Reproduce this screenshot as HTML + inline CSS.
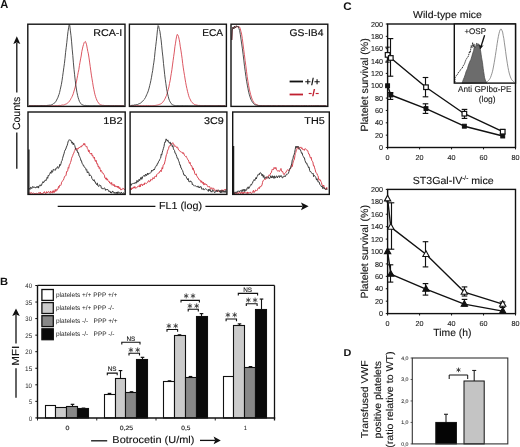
<!DOCTYPE html>
<html><head><meta charset="utf-8"><style>
html,body{margin:0;padding:0;background:#fff;width:520px;height:447px;overflow:hidden;}
body{position:relative;font-family:"Liberation Sans", sans-serif;}
svg text{font-family:"Liberation Sans", sans-serif;}
</style></head><body>
<svg width="520" height="447" viewBox="0 0 520 447" style="position:absolute;left:0;top:0;will-change:transform">
<g font-family="Liberation Sans, sans-serif" text-rendering="geometricPrecision">
<text x="0.36" y="8.10" font-size="11.5" font-weight="bold" fill="#111" textLength="8.04" lengthAdjust="spacingAndGlyphs" >A</text>
<path d="M29 105.64 L29.6 105.57 L30.2 105.7 L30.8 105.55 L31.4 105.7 L32 105.65 L32.6 105.54 L33.2 105.7 L33.8 105.53 L34.4 105.68 L35 105.55 L35.6 105.55 L36.2 105.67 L36.8 105.7 L37.4 105.56 L38 105.6 L38.6 105.7 L39.2 105.7 L39.8 105.7 L40.4 105.66 L41 105.7 L41.6 105.54 L42.2 105.7 L42.8 105.62 L43.4 105.57 L44 105.56 L44.6 105.63 L45.2 105.7 L45.8 105.58 L46.4 105.7 L47 105.7 L47.6 105.65 L48.2 105.7 L48.8 105.54 L49.4 105.54 L50 105.59 L50.6 105.7 L51.2 105.67 L51.8 105.63 L52.4 105.7 L53 105.67 L53.6 105.61 L54.2 105.7 L54.8 105.7 L55.4 105.57 L56 105.68 L56.6 105.65 L57.2 105.7 L57.8 105.69 L58.4 105.5 L59 105.7 L59.6 105.37 L60.2 105.44 L60.8 105.5 L61.4 105.21 L62 105.25 L62.6 104.98 L63.2 105.09 L63.8 104.98 L64.4 104.72 L65 104.62 L65.6 104.15 L66.2 103.99 L66.8 103.59 L67.4 103.16 L68 102.61 L68.6 102.2 L69.2 101.58 L69.8 100.59 L70.4 99.79 L71 98.47 L71.6 97.63 L72.2 96.29 L72.8 95.01 L73.4 93.27 L74 91.1 L74.6 89.12 L75.2 87.08 L75.8 84.16 L76.4 81.85 L77 78.76 L77.6 75.67 L78.2 72.4 L78.8 69.78 L79.4 65.65 L80 62.25 L80.6 58.89 L81.2 56.02 L81.8 51.6 L82.4 48.94 L83 46.25 L83.6 44.36 L84.2 42.51 L84.8 41.88 L85.4 41.48 L86 42.94 L86.6 44.82 L87.2 48.17 L87.8 51.39 L88.4 53.88 L89 57.86 L89.6 62.08 L90.2 66.35 L90.8 70.87 L91.4 75.12 L92 78.81 L92.6 82.35 L93.2 86.13 L93.8 89.23 L94.4 92.14 L95 94.81 L95.6 96.76 L96.2 98.47 L96.8 100.03 L97.4 101.3 L98 102.05 L98.6 103.22 L99.2 103.82 L99.8 104.36 L100.4 104.72 L101 104.86 L101.6 105.09 L102.2 105.15 L102.8 105.46 L103.4 105.34 L104 105.41 L104.6 105.5 L105.2 105.52 L105.8 105.6 L106.4 105.51 L107 105.5 L107.6 105.56 L108.2 105.55 L108.8 105.65 L109.4 105.53 L110 105.7 L110.6 105.7 L111.2 105.57 L111.8 105.61 L112.4 105.64 L113 105.65 L113.6 105.56 L114.2 105.7 L114.8 105.7 L115.4 105.69 L116 105.69 L116.6 105.55 L117.2 105.56 L117.8 105.64 L118.4 105.62 L119 105.7 L119.6 105.58 L120.2 105.53 L120.8 105.7 L121.4 105.7 L122 105.57 L122.6 105.7 L123.2 105.53 L123.8 105.7" fill="none" stroke="#d84450" stroke-width="0.9" stroke-linejoin="round" />
<path d="M29 105.7 L29.6 105.7 L30.2 105.7 L30.8 105.61 L31.4 105.65 L32 105.58 L32.6 105.7 L33.2 105.7 L33.8 105.7 L34.4 105.64 L35 105.6 L35.6 105.7 L36.2 105.7 L36.8 105.7 L37.4 105.7 L38 105.7 L38.6 105.7 L39.2 105.6 L39.8 105.7 L40.4 105.64 L41 105.52 L41.6 105.52 L42.2 105.6 L42.8 105.59 L43.4 105.7 L44 105.7 L44.6 105.62 L45.2 105.7 L45.8 105.7 L46.4 105.7 L47 105.49 L47.6 105.39 L48.2 105.34 L48.8 105.26 L49.4 105.17 L50 105.21 L50.6 105.17 L51.2 104.98 L51.8 104.63 L52.4 104.43 L53 104.17 L53.6 103.5 L54.2 103.25 L54.8 102.79 L55.4 102.05 L56 101.23 L56.6 100.14 L57.2 98.86 L57.8 97.8 L58.4 96.01 L59 94.44 L59.6 92.45 L60.2 89.72 L60.8 87 L61.4 84.3 L62 80.73 L62.6 76.5 L63.2 72.28 L63.8 67.75 L64.4 63.61 L65 58.4 L65.6 52.32 L66.2 47.67 L66.8 42.45 L67.4 36.8 L68 31.55 L68.6 27.82 L69.2 24.58 L69.8 25.65 L70.4 30.9 L71 35.73 L71.6 41.84 L72.2 49.14 L72.8 55.52 L73.4 62.82 L74 69.25 L74.6 74.72 L75.2 80.17 L75.8 84.96 L76.4 89.03 L77 92.68 L77.6 95.38 L78.2 97.8 L78.8 99.56 L79.4 101.38 L80 102.3 L80.6 103.24 L81.2 103.96 L81.8 104.58 L82.4 104.77 L83 105.22 L83.6 105.26 L84.2 105.41 L84.8 105.5 L85.4 105.39 L86 105.59 L86.6 105.53 L87.2 105.48 L87.8 105.7 L88.4 105.57 L89 105.68 L89.6 105.7 L90.2 105.7 L90.8 105.63 L91.4 105.7 L92 105.7 L92.6 105.7 L93.2 105.56 L93.8 105.7 L94.4 105.61 L95 105.62 L95.6 105.7 L96.2 105.7 L96.8 105.7 L97.4 105.7 L98 105.7 L98.6 105.68 L99.2 105.7 L99.8 105.7 L100.4 105.7 L101 105.7 L101.6 105.68 L102.2 105.7 L102.8 105.69 L103.4 105.7 L104 105.7 L104.6 105.7 L105.2 105.7 L105.8 105.61 L106.4 105.7 L107 105.7 L107.6 105.7 L108.2 105.57 L108.8 105.56 L109.4 105.68 L110 105.55 L110.6 105.61 L111.2 105.55 L111.8 105.7 L112.4 105.7 L113 105.7 L113.6 105.58 L114.2 105.7 L114.8 105.7 L115.4 105.57 L116 105.7 L116.6 105.7 L117.2 105.6 L117.8 105.7 L118.4 105.66 L119 105.7 L119.6 105.7 L120.2 105.7 L120.8 105.58 L121.4 105.68 L122 105.7 L122.6 105.64 L123.2 105.59 L123.8 105.63" fill="none" stroke="#3a3a3a" stroke-width="0.9" stroke-linejoin="round" />
<path d="M130.5 105.7 L131.1 105.53 L131.7 105.7 L132.3 105.68 L132.9 105.53 L133.5 105.64 L134.1 105.7 L134.7 105.7 L135.3 105.54 L135.9 105.7 L136.5 105.7 L137.1 105.7 L137.7 105.56 L138.3 105.62 L138.9 105.53 L139.5 105.7 L140.1 105.62 L140.7 105.57 L141.3 105.67 L141.9 105.7 L142.5 105.7 L143.1 105.61 L143.7 105.57 L144.3 105.7 L144.9 105.7 L145.5 105.7 L146.1 105.55 L146.7 105.53 L147.3 105.7 L147.9 105.66 L148.5 105.53 L149.1 105.7 L149.7 105.7 L150.3 105.7 L150.9 105.51 L151.5 105.7 L152.1 105.47 L152.7 105.7 L153.3 105.57 L153.9 105.5 L154.5 105.54 L155.1 105.62 L155.7 105.32 L156.3 105.2 L156.9 105.25 L157.5 105.03 L158.1 104.84 L158.7 104.69 L159.3 104.43 L159.9 104.24 L160.5 103.97 L161.1 103.6 L161.7 103.34 L162.3 102.62 L162.9 102.08 L163.5 101.21 L164.1 100.41 L164.7 99.24 L165.3 98.17 L165.9 96.68 L166.5 95.48 L167.1 93.59 L167.7 91.33 L168.3 89.2 L168.9 86.93 L169.5 83.48 L170.1 80.85 L170.7 77.08 L171.3 73.38 L171.9 69.68 L172.5 64.98 L173.1 60.65 L173.7 56.29 L174.3 52.08 L174.9 46.74 L175.5 43.16 L176.1 39.19 L176.7 36.08 L177.3 34.38 L177.9 35.16 L178.5 36.52 L179.1 39.18 L179.7 42.26 L180.3 46.8 L180.9 50.11 L181.5 54.19 L182.1 58.43 L182.7 63.6 L183.3 67.87 L183.9 71.79 L184.5 75.39 L185.1 79.08 L185.7 82.58 L186.3 85.86 L186.9 88.52 L187.5 91.27 L188.1 93.44 L188.7 95.81 L189.3 97.53 L189.9 98.8 L190.5 99.93 L191.1 101.32 L191.7 101.93 L192.3 102.69 L192.9 103.16 L193.5 103.81 L194.1 104.25 L194.7 104.58 L195.3 104.72 L195.9 105.04 L196.5 105.01 L197.1 105.23 L197.7 105.26 L198.3 105.45 L198.9 105.38 L199.5 105.41 L200.1 105.54 L200.7 105.54 L201.3 105.69 L201.9 105.68 L202.5 105.7 L203.1 105.7 L203.7 105.7 L204.3 105.7 L204.9 105.65 L205.5 105.63 L206.1 105.7 L206.7 105.57 L207.3 105.7 L207.9 105.7 L208.5 105.54 L209.1 105.7 L209.7 105.7 L210.3 105.7 L210.9 105.7 L211.5 105.7 L212.1 105.57 L212.7 105.7 L213.3 105.7 L213.9 105.7 L214.5 105.7 L215.1 105.7 L215.7 105.7 L216.3 105.7 L216.9 105.7 L217.5 105.7 L218.1 105.6 L218.7 105.53 L219.3 105.57 L219.9 105.65 L220.5 105.56 L221.1 105.7 L221.7 105.7 L222.3 105.7 L222.9 105.7 L223.5 105.7 L224.1 105.7 L224.7 105.52 L225.3 105.7" fill="none" stroke="#d84450" stroke-width="0.9" stroke-linejoin="round" />
<path d="M130.5 105.56 L131.1 105.43 L131.7 105.4 L132.3 105.39 L132.9 105.11 L133.5 105.29 L134.1 105.03 L134.7 104.87 L135.3 104.84 L135.9 104.89 L136.5 104.55 L137.1 104.59 L137.7 104.49 L138.3 104.1 L138.9 103.81 L139.5 103.57 L140.1 103.33 L140.7 102.99 L141.3 102.51 L141.9 102.05 L142.5 101.27 L143.1 100.67 L143.7 100.02 L144.3 99.44 L144.9 98.34 L145.5 97.44 L146.1 96.02 L146.7 94.74 L147.3 93.39 L147.9 91.98 L148.5 90.17 L149.1 88.12 L149.7 85.59 L150.3 83.21 L150.9 80.37 L151.5 77.28 L152.1 73.57 L152.7 70.51 L153.3 65.79 L153.9 62.15 L154.5 57.37 L155.1 51.23 L155.7 46.35 L156.3 41.23 L156.9 35.77 L157.5 29.53 L158.1 25.56 L158.7 26.26 L159.3 29.34 L159.9 31.25 L160.5 35.75 L161.1 39.89 L161.7 45.73 L162.3 51.94 L162.9 56.9 L163.5 63.52 L164.1 68.94 L164.7 74.69 L165.3 79.55 L165.9 83.76 L166.5 88.22 L167.1 91.47 L167.7 94.2 L168.3 96.7 L168.9 98.97 L169.5 100.6 L170.1 101.83 L170.7 102.78 L171.3 103.63 L171.9 104.2 L172.5 104.83 L173.1 104.82 L173.7 105.32 L174.3 105.51 L174.9 105.35 L175.5 105.7 L176.1 105.69 L176.7 105.7 L177.3 105.59 L177.9 105.63 L178.5 105.65 L179.1 105.7 L179.7 105.7 L180.3 105.65 L180.9 105.67 L181.5 105.62 L182.1 105.54 L182.7 105.56 L183.3 105.7 L183.9 105.62 L184.5 105.7 L185.1 105.61 L185.7 105.62 L186.3 105.7 L186.9 105.59 L187.5 105.65 L188.1 105.7 L188.7 105.7 L189.3 105.7 L189.9 105.7 L190.5 105.7 L191.1 105.7 L191.7 105.7 L192.3 105.7 L192.9 105.54 L193.5 105.7 L194.1 105.68 L194.7 105.7 L195.3 105.7 L195.9 105.62 L196.5 105.54 L197.1 105.7 L197.7 105.57 L198.3 105.69 L198.9 105.64 L199.5 105.63 L200.1 105.7 L200.7 105.7 L201.3 105.61 L201.9 105.7 L202.5 105.63 L203.1 105.7 L203.7 105.66 L204.3 105.58 L204.9 105.58 L205.5 105.59 L206.1 105.7 L206.7 105.7 L207.3 105.6 L207.9 105.7 L208.5 105.7 L209.1 105.68 L209.7 105.57 L210.3 105.59 L210.9 105.55 L211.5 105.64 L212.1 105.55 L212.7 105.61 L213.3 105.61 L213.9 105.7 L214.5 105.7 L215.1 105.7 L215.7 105.67 L216.3 105.67 L216.9 105.7 L217.5 105.66 L218.1 105.64 L218.7 105.54 L219.3 105.62 L219.9 105.7 L220.5 105.57 L221.1 105.7 L221.7 105.7 L222.3 105.7 L222.9 105.6 L223.5 105.62 L224.1 105.61 L224.7 105.66 L225.3 105.68" fill="none" stroke="#3a3a3a" stroke-width="0.9" stroke-linejoin="round" />
<path d="M231.8 40 L232.3 30 L233 27 L233.8 29 L234.5 26 L235.5 28 L236.5 25.8 L237.5 27 L239.5 26.88 L240.2 28.52 L240.9 31.27 L241.6 34.06 L242.3 38.45 L243 44 L243.7 49.49 L244.4 54.73 L245.1 60.47 L245.8 65.66 L246.5 71.27 L247.2 76.6 L247.9 81.17 L248.6 85.35 L249.3 89.09 L250 92.03 L250.7 94.74 L251.4 97.07 L252.1 99.1 L252.8 100.7 L253.5 102 L254.2 102.92 L254.9 103.65 L255.6 104.25 L256.3 104.61 L257 104.95 L257.7 105.06 L258.4 105.4 L259.1 105.39 L259.8 105.64 L260.5 105.63 L261.2 105.58 L261.9 105.57 L262.6 105.61 L263.3 105.71 L264 105.74 L264.7 105.6 L265.4 105.59 L266.1 105.7 L266.8 105.72 L267.5 105.67 L268.2 105.63 L268.9 105.72 L269.6 105.58 L270.3 105.65 L271 105.69 L271.7 105.81 L272.4 105.73 L273.1 105.79 L273.8 105.69 L274.5 105.64 L275.2 105.64 L275.9 105.81 L276.6 105.75 L277.3 105.65 L278 105.59 L278.7 105.7 L279.4 105.74 L280.1 105.68 L280.8 105.64 L281.5 105.74 L282.2 105.8 L282.9 105.63 L283.6 105.59 L284.3 105.66 L285 105.68 L285.7 105.74 L286.4 105.63 L287.1 105.77 L287.8 105.76 L288.5 105.7 L289.2 105.63 L289.9 105.81 L290.6 105.65 L291.3 105.78 L292 105.64 L292.7 105.63 L293.4 105.76 L294.1 105.65 L294.8 105.81 L295.5 105.7 L296.2 105.62 L296.9 105.63 L297.6 105.68 L298.3 105.74 L299 105.81 L299.7 105.62 L300.4 105.67 L301.1 105.63 L301.8 105.81 L302.5 105.61 L303.2 105.59 L303.9 105.59 L304.6 105.67 L305.3 105.8 L306 105.79 L306.7 105.76 L307.4 105.82 L308.1 105.8 L308.8 105.66 L309.5 105.62 L310.2 105.8 L310.9 105.76 L311.6 105.59 L312.3 105.74 L313 105.67 L313.7 105.67 L314.4 105.66 L315.1 105.62 L315.8 105.58 L316.5 105.65 L317.2 105.66 L317.9 105.81 L318.6 105.61 L319.3 105.81 L320 105.63 L320.7 105.67 L321.4 105.78 L322.1 105.78 L322.8 105.68 L323.5 105.59 L324.2 105.69 L324.9 105.67 L325.6 105.8 L326.3 105.63" fill="none" stroke="#d84450" stroke-width="0.9" stroke-linejoin="round" />
<path d="M231.8 40 L232.3 30 L233 27 L233.8 29 L234.5 26 L235.5 28 L236.5 25.8 L237.5 27 L238.2 26.27 L238.9 28.56 L239.6 30.44 L240.3 34.43 L241 39.16 L241.7 44.05 L242.4 48.8 L243.1 54.4 L243.8 60.1 L244.5 66.25 L245.2 71.19 L245.9 76.5 L246.6 81.2 L247.3 85.12 L248 88.81 L248.7 92.29 L249.4 94.91 L250.1 97.11 L250.8 99.16 L251.5 100.59 L252.2 101.82 L252.9 102.72 L253.6 103.68 L254.3 104.29 L255 104.65 L255.7 105.05 L256.4 105.05 L257.1 105.27 L257.8 105.45 L258.5 105.65 L259.2 105.7 L259.9 105.6 L260.6 105.59 L261.3 105.65 L262 105.68 L262.7 105.79 L263.4 105.62 L264.1 105.77 L264.8 105.75 L265.5 105.78 L266.2 105.76 L266.9 105.73 L267.6 105.66 L268.3 105.66 L269 105.67 L269.7 105.77 L270.4 105.6 L271.1 105.63 L271.8 105.76 L272.5 105.64 L273.2 105.6 L273.9 105.59 L274.6 105.71 L275.3 105.66 L276 105.82 L276.7 105.79 L277.4 105.82 L278.1 105.64 L278.8 105.6 L279.5 105.6 L280.2 105.7 L280.9 105.75 L281.6 105.69 L282.3 105.64 L283 105.68 L283.7 105.73 L284.4 105.74 L285.1 105.76 L285.8 105.78 L286.5 105.74 L287.2 105.61 L287.9 105.78 L288.6 105.65 L289.3 105.72 L290 105.67 L290.7 105.76 L291.4 105.63 L292.1 105.64 L292.8 105.64 L293.5 105.62 L294.2 105.79 L294.9 105.72 L295.6 105.66 L296.3 105.68 L297 105.82 L297.7 105.7 L298.4 105.64 L299.1 105.77 L299.8 105.74 L300.5 105.82 L301.2 105.6 L301.9 105.69 L302.6 105.78 L303.3 105.78 L304 105.8 L304.7 105.59 L305.4 105.65 L306.1 105.61 L306.8 105.63 L307.5 105.81 L308.2 105.72 L308.9 105.8 L309.6 105.67 L310.3 105.79 L311 105.69 L311.7 105.64 L312.4 105.77 L313.1 105.81 L313.8 105.61 L314.5 105.72 L315.2 105.73 L315.9 105.63 L316.6 105.67 L317.3 105.61 L318 105.63 L318.7 105.64 L319.4 105.72 L320.1 105.74 L320.8 105.63 L321.5 105.58 L322.2 105.66 L322.9 105.74 L323.6 105.62 L324.3 105.65 L325 105.63 L325.7 105.77 L326.4 105.71" fill="none" stroke="#3a3a3a" stroke-width="0.9" stroke-linejoin="round" />
<path d="M28.8 192.28 L29.09 192.39 L29.46 193.22 L29.88 193.66 L30.36 193.7 L30.87 192.4 L31.42 192.62 L32 193.7 L32.59 193.33 L33.19 192.99 L33.79 193.07 L34.38 193.7 L34.95 193.09 L35.49 193.7 L36 193.2 L36.56 193.35 L37.1 193.7 L37.63 193.7 L38.15 193.14 L38.66 192.65 L39.17 193.7 L39.69 192.6 L40.21 192.01 L40.73 193.7 L41.27 193.09 L41.83 193.7 L42.4 192.94 L42.88 193.7 L43.37 192.99 L43.87 192.11 L44.39 191.64 L44.91 193.09 L45.44 193.28 L45.97 193.7 L46.5 191.61 L47.03 193.04 L47.56 192.26 L48.07 192.56 L48.58 191.48 L49.07 191.78 L49.54 192.35 L50 193.39 L50.59 190.99 L51.16 191.95 L51.71 192.74 L52.24 193.11 L52.76 190.85 L53.27 190.53 L53.77 192.66 L54.27 192.56 L54.77 190.93 L55.28 189.42 L55.8 191.49 L56.33 189.53 L56.88 190.45 L57.43 189.07 L57.99 189 L58.54 186.46 L59.09 187.51 L59.63 185.2 L60.16 184.98 L60.66 185.48 L61.14 184.71 L61.6 182.21 L62.26 181.25 L62.86 180.71 L63.41 179.98 L63.94 178.53 L64.45 176.7 L64.96 175.9 L65.5 176.03 L66.05 175.26 L66.59 171.57 L67.13 171.7 L67.67 170.87 L68.21 167.45 L68.75 168.24 L69.3 164.73 L69.86 164.47 L70.44 162.57 L71.02 160.97 L71.6 158.26 L72.16 156.85 L72.7 155.75 L73.2 153.99 L73.8 153.2 L74.3 151.5 L74.79 150.61 L75.33 148.73 L76 149.73 L76.45 149.04 L76.95 148.06 L77.49 149.33 L78.05 149.2 L78.62 148.14 L79.19 147.2 L79.76 147.86 L80.3 146.64 L80.8 146.46 L81.41 146.87 L81.98 145.35 L82.54 145.71 L83.08 145.32 L83.62 143.54 L84.16 144.95 L84.7 143.43 L85.24 145.63 L85.76 146.4 L86.28 146.51 L86.81 146.21 L87.34 148.5 L87.91 149.15 L88.5 151.66 L88.99 150 L89.5 152.62 L90.02 153.58 L90.56 153.42 L91.1 154.24 L91.66 153.13 L92.21 156 L92.76 155.37 L93.3 157.48 L93.84 158.26 L94.37 157.14 L94.9 159.93 L95.43 161.41 L95.96 160.11 L96.5 162.04 L97.06 164.31 L97.62 163.76 L98.2 166.91 L98.69 166.05 L99.19 168.47 L99.69 167.5 L100.21 169.42 L100.73 171.5 L101.26 170.42 L101.79 171.46 L102.32 173.01 L102.85 173.32 L103.38 173.34 L103.9 174.51 L104.42 175.18 L104.92 178.04 L105.42 177.99 L105.92 179.24 L106.42 177.82 L106.93 180.14 L107.45 178.85 L107.98 180.57 L108.53 181.42 L109.1 181.18 L109.7 183.14 L110.16 182.63 L110.65 183.07 L111.15 184.28 L111.67 182.46 L112.2 185.29 L112.73 184.61 L113.28 184.28 L113.82 185.73 L114.37 184.55 L114.9 186.88 L115.43 186.02 L115.95 185.7 L116.45 187.11 L116.94 186.48 L117.4 185.99 L118.02 187.93 L118.63 186.31 L119.24 188.8 L119.83 187.52 L120.41 188.89 L120.97 190.13 L121.49 189.26 L121.99 189.71 L122.44 188.94 L122.85 188.25 L123.2 188.49 L124.26 189.1 L124.6 190" fill="none" stroke="#d84450" stroke-width="1.0" stroke-linejoin="round" />
<path d="M28.8 188.82 L29.12 188.28 L29.52 188.46 L30.01 189.48 L30.56 187.29 L31.15 187.49 L31.76 188.61 L32.38 186.76 L33 186.61 L33.46 187.52 L33.95 186.76 L34.46 187.39 L34.99 186.95 L35.52 187.88 L36.06 187.8 L36.59 186.63 L37.11 187.69 L37.6 187.15 L38.07 186.05 L38.5 188.12 L39.1 185.88 L39.63 185.28 L40.1 184.75 L40.56 185.86 L41.01 186.06 L41.48 185.32 L42 183.73 L42.48 182.85 L42.96 181.63 L43.45 182.87 L43.96 182.07 L44.48 180.88 L45.02 181.06 L45.59 179.79 L46.2 180.42 L46.67 179.24 L47.18 177.2 L47.72 178.3 L48.27 175.12 L48.83 175.69 L49.4 174.55 L49.96 173.3 L50.5 172.07 L51.03 173.4 L51.53 170.65 L52 171.64 L52.59 172.18 L53.13 169.52 L53.65 169.37 L54.13 170.27 L54.6 169.78 L55.06 169.95 L55.53 170.19 L56 168.09 L56.56 168.07 L57.12 167.65 L57.68 166.55 L58.23 168.48 L58.75 167.72 L59.25 167 L59.7 164.42 L60.39 165.45 L60.99 163.62 L61.51 161.27 L62 160.68 L62.51 158.67 L62.93 157.06 L63.5 155.09 L63.99 153.84 L64.56 151.31 L65.17 149.99 L65.8 149.04 L66.4 147.05 L67 145.81 L67.62 143.82 L68.23 141.11 L68.8 140.74 L69.3 139.62 L69.94 140.37 L70.44 140.26 L71 140.34 L71.48 141.87 L71.97 143.31 L72.53 141.92 L73.2 144.76 L73.67 143.09 L74.19 144.65 L74.76 145.56 L75.34 148.01 L75.93 149.62 L76.49 150.1 L77 149.92 L77.55 152.57 L78.07 152.12 L78.56 152.96 L79.04 155.93 L79.52 156.26 L80 157.54 L80.53 158.76 L81 160.91 L81.48 160.78 L82.06 163.2 L82.8 164.35 L83.2 165.57 L83.63 165.21 L84.09 166.87 L84.58 167.31 L85.08 167.48 L85.61 168.13 L86.16 170.2 L86.72 169.6 L87.3 172.85 L87.9 171.62 L88.5 172.18 L88.96 173.05 L89.43 176.02 L89.91 175.05 L90.41 175.17 L90.92 175.53 L91.44 176.25 L91.96 178.75 L92.49 179.26 L93.02 180.1 L93.56 180.86 L94.09 179.61 L94.63 181.68 L95.16 181.63 L95.68 183.46 L96.2 183.99 L96.71 184.69 L97.23 182.86 L97.74 185.56 L98.25 186.13 L98.77 186.63 L99.28 184.68 L99.79 185.34 L100.31 185.45 L100.82 185.58 L101.33 188.2 L101.85 188.43 L102.36 188.26 L102.87 189.11 L103.39 188.87 L103.9 188.2 L104.41 187.97 L104.93 188.24 L105.44 190.35 L105.95 189.06 L106.47 189.62 L106.98 190.14 L107.49 189.23 L108.01 190.1 L108.52 190.38 L109.03 191.78 L109.55 190.99 L110.06 191.03 L110.57 192.99 L111.09 191.86 L111.6 192.98 L112.12 192.47 L112.65 190.95 L113.18 192.14 L113.72 192.31 L114.26 193.35 L114.8 192.24 L115.34 193.32 L115.87 192.92 L116.4 192.09 L116.92 193.7 L117.43 191.85 L117.92 193.7 L118.4 192.18 L118.86 191.75 L119.3 192.37 L119.94 193.7 L120.58 193.7 L121.21 191.98 L121.81 193.37 L122.38 193.4 L122.91 193.7 L123.4 192.58 L123.83 193.46 L124.2 193.06 L124.5 193.5" fill="none" stroke="#3a3a3a" stroke-width="1.0" stroke-linejoin="round" />
<line x1="28.9" y1="149.5" x2="28.9" y2="194" stroke="#222" stroke-width="1.3" />
<path d="M130.8 189.73 L131.08 188.04 L131.42 189.85 L131.8 187.89 L132.23 187.58 L132.69 188.8 L133.19 188.09 L133.71 186.85 L134.26 188.17 L134.83 186.44 L135.41 188.24 L136 187.8 L136.6 187.86 L137.2 187.21 L137.79 186.25 L138.38 186.16 L138.95 185.93 L139.5 187.09 L139.99 184.64 L140.49 186.67 L141 184.04 L141.51 184.32 L142.03 184.24 L142.56 185.79 L143.09 184.42 L143.62 183.83 L144.15 184.99 L144.68 182.91 L145.21 183.28 L145.74 183.22 L146.26 183.57 L146.77 183.29 L147.28 182.72 L147.78 181.61 L148.26 181.27 L148.74 180.51 L149.2 182.16 L149.77 181.3 L150.33 181.17 L150.88 179.21 L151.42 179.6 L151.96 180.18 L152.48 179.26 L152.99 177.62 L153.49 178.18 L153.99 178.98 L154.48 176.78 L154.96 176.25 L155.43 176.14 L155.89 176.85 L156.35 176.81 L156.8 174.43 L157.4 173.84 L157.98 173.51 L158.54 173.16 L159.08 173.13 L159.61 171.51 L160.13 171.35 L160.64 170.28 L161.14 171.74 L161.63 170.23 L162.12 167.58 L162.6 168.99 L163.18 165.17 L163.75 164.34 L164.31 164.24 L164.85 161.84 L165.38 159.75 L165.9 157.03 L166.41 154.56 L166.91 154.14 L167.4 151.2 L168 149.79 L168.55 148.7 L169.09 146.24 L169.61 145.95 L170.15 145.94 L170.7 144.81 L171.3 143.7 L171.79 143.86 L172.29 143.4 L172.8 142.67 L173.32 144.29 L173.86 144.16 L174.4 145.6 L174.96 146.6 L175.52 145.8 L176.1 146.71 L176.59 147.62 L177.11 147.18 L177.64 147.16 L178.18 149.09 L178.73 150.1 L179.28 150.39 L179.82 150.76 L180.35 151.76 L180.86 151.82 L181.35 152.23 L181.8 152.17 L182.43 152.38 L182.99 153.75 L183.5 152.68 L183.99 154 L184.5 155.52 L185.06 155.96 L185.7 156.56 L186.16 156.17 L186.67 157.41 L187.2 158.33 L187.75 159.69 L188.32 160.03 L188.89 161.73 L189.46 163.41 L190.01 162.28 L190.54 164.53 L191.04 165.76 L191.5 165.49 L192.13 166.97 L192.67 169.47 L193.16 167.94 L193.64 170.42 L194.13 170.41 L194.67 173.21 L195.3 174.73 L195.75 174.26 L196.21 173.81 L196.69 175.86 L197.18 176.5 L197.69 177.72 L198.22 177.87 L198.77 178.94 L199.33 180.17 L199.9 179.98 L200.49 180.32 L201.1 182.45 L201.55 180.83 L202.02 182.59 L202.49 182.2 L202.97 183.65 L203.46 182.26 L203.95 185.07 L204.46 183.69 L204.97 183.23 L205.49 184.21 L206.02 184.93 L206.56 184.2 L207.11 185.68 L207.66 186.02 L208.23 187.13 L208.8 186.49 L209.26 186.5 L209.74 186.64 L210.23 188.34 L210.73 189.16 L211.24 188.26 L211.76 187.64 L212.28 189.52 L212.81 188.62 L213.34 188.35 L213.87 188.34 L214.4 190.37 L214.93 190.67 L215.45 190.37 L215.97 190.08 L216.48 190.51 L216.98 189.71 L217.46 191.9 L217.94 190.3 L218.4 191.19 L218.98 191.77 L219.57 191.79 L220.17 190.81 L220.77 190.28 L221.36 190.93 L221.95 189.66 L222.52 191.53 L223.07 190.08 L223.6 191.35 L224.1 189.59 L224.57 189.78 L225 189.32 L225.38 189.71 L225.72 188.97 L226 189.8" fill="none" stroke="#d84450" stroke-width="1.0" stroke-linejoin="round" />
<path d="M130.8 183.61 L131.1 185.46 L131.46 184.03 L131.89 183.71 L132.36 183.62 L132.88 183.85 L133.43 183.41 L134.01 183.69 L134.61 183.43 L135.22 182.26 L135.83 183.49 L136.44 182.93 L137.03 180.33 L137.6 182.12 L138.09 182 L138.6 181.31 L139.11 179.13 L139.64 180.67 L140.17 179.72 L140.71 177.57 L141.24 177.15 L141.78 179.36 L142.31 178.12 L142.84 176.57 L143.36 175.75 L143.87 175.47 L144.36 175.35 L144.84 176.51 L145.3 174.97 L145.9 174.01 L146.47 175.73 L147.02 175.06 L147.55 172.99 L148.07 174.7 L148.58 173.59 L149.08 173.76 L149.58 173.11 L150.08 173.4 L150.58 172.72 L151.1 172.45 L151.62 170.22 L152.15 171.19 L152.68 170.32 L153.21 170.49 L153.74 169.19 L154.27 169.96 L154.79 168.54 L155.31 167.17 L155.81 166.48 L156.31 165.54 L156.8 165.78 L157.39 163.54 L157.96 163.56 L158.53 161.44 L159.09 161.12 L159.64 159.8 L160.18 158.53 L160.7 158.03 L161.21 154.22 L161.7 155.15 L162.31 152.17 L162.89 150.26 L163.45 148.3 L163.99 146.59 L164.51 143.29 L165.01 141.75 L165.5 142.09 L166.14 138.86 L166.72 140.46 L167.28 140.96 L167.83 139.9 L168.4 142.01 L168.97 142.44 L169.52 143.31 L170.08 141.9 L170.66 144.21 L171.3 143.73 L171.79 144.53 L172.32 146.76 L172.86 145.57 L173.42 148.81 L173.98 149.93 L174.54 150.51 L175.1 153.31 L175.64 153.23 L176.18 154.84 L176.72 156.31 L177.26 158.35 L177.82 158.17 L178.39 160.23 L179 161.68 L179.48 163.26 L179.95 165.3 L180.43 165.11 L180.91 167.95 L181.42 168.1 L181.95 169.72 L182.52 170.38 L183.13 172.31 L183.8 174.83 L184.23 174.64 L184.67 175.73 L185.12 175.15 L185.6 175.82 L186.08 176.46 L186.58 177.96 L187.09 178.77 L187.61 179.85 L188.14 178.41 L188.69 180.95 L189.23 182.02 L189.79 181.65 L190.36 180.81 L190.93 182.04 L191.5 181.72 L191.96 182.6 L192.43 185 L192.91 184.45 L193.4 184.9 L193.89 185.56 L194.39 186.18 L194.9 185.62 L195.41 185.88 L195.92 186.16 L196.44 186.58 L196.96 186.53 L197.48 186.98 L198 185.88 L198.53 187.36 L199.05 186.98 L199.56 188.03 L200.08 186.38 L200.59 186.81 L201.1 186.6 L201.61 188.87 L202.12 189.46 L202.64 188.92 L203.16 188.31 L203.68 189.76 L204.21 189.83 L204.74 189.38 L205.26 188.69 L205.78 188.97 L206.3 189.46 L206.82 189.32 L207.33 189.78 L207.84 190.51 L208.34 191.46 L208.83 189.12 L209.31 190.67 L209.79 189.31 L210.25 189.63 L210.7 191.67 L211.29 191.13 L211.86 192.19 L212.4 190.95 L212.93 189.81 L213.45 190.92 L213.95 191.54 L214.45 192.54 L214.94 192.7 L215.44 191.31 L215.93 191.16 L216.43 190.31 L216.94 191.85 L217.46 190.66 L218 190.52 L218.5 190.17 L219.02 190.16 L219.57 192.09 L220.14 190.53 L220.72 192.91 L221.3 190.47 L221.88 192.67 L222.46 190.6 L223.02 190.3 L223.56 192.28 L224.07 190.95 L224.55 192.33 L224.99 190.81 L225.38 190.43 L225.72 192.46 L226 191.7" fill="none" stroke="#3a3a3a" stroke-width="1.0" stroke-linejoin="round" />
<path d="M233.85 193.7 L234.14 193.7 L234.49 193.7 L234.89 192.08 L235.35 193.6 L235.84 193.7 L236.37 193.11 L236.93 193.7 L237.5 192.5 L238.09 193.7 L238.69 193.7 L239.29 191.78 L239.88 191.77 L240.45 193.54 L241.01 193.7 L241.54 191.9 L242.06 192.53 L242.58 193.69 L243.11 192.1 L243.64 193.7 L244.17 192.98 L244.71 191.78 L245.24 192.63 L245.77 193.19 L246.29 192.79 L246.81 193.44 L247.32 191.92 L247.82 193.7 L248.3 192.44 L248.77 193.17 L249.23 193.06 L249.83 192.36 L250.4 192.16 L250.94 193.16 L251.47 193.47 L251.98 192.88 L252.49 192.11 L252.98 191.16 L253.48 190.31 L253.98 192.64 L254.48 191.63 L255 191.69 L255.53 189.98 L256.07 190.39 L256.63 191.05 L257.18 190.24 L257.73 189.17 L258.28 187.9 L258.81 187.77 L259.33 188.58 L259.84 186.65 L260.32 187 L260.77 186.25 L261.42 186.18 L262.01 184.93 L262.55 182.4 L263.07 180.55 L263.57 180.27 L264.08 179.79 L264.62 179.47 L265.17 179.52 L265.74 179.27 L266.31 176.54 L266.88 178.45 L267.43 178.07 L267.96 177.85 L268.46 176.55 L269.08 174.86 L269.64 175.5 L270.17 174.34 L270.72 172.99 L271.35 172.7 L271.85 170.44 L272.4 168.98 L272.98 169.57 L273.56 169.58 L274.14 167.36 L274.68 168.53 L275.19 168.9 L275.83 167.32 L276.42 169.25 L276.97 170.54 L277.52 170.92 L278.08 170.72 L278.65 170.74 L279.23 171.61 L279.81 171.06 L280.38 169.61 L280.96 168.46 L281.52 170.98 L282.07 171.82 L282.62 171.38 L283.21 173.25 L283.85 174.57 L284.35 174.47 L284.9 173.16 L285.48 172.58 L286.06 172.35 L286.64 170.66 L287.18 170.14 L287.69 169.68 L288.33 170.77 L288.92 169.59 L289.47 169.9 L290.02 169.06 L290.58 168.7 L291.15 166.71 L291.73 165.26 L292.31 166.58 L292.88 163.3 L293.46 160.82 L294.04 160.16 L294.62 158.04 L295.19 153.64 L295.77 152.49 L296.35 149.95 L296.91 149.25 L297.45 147.08 L298.01 146.66 L298.59 149.07 L299.23 148.53 L299.74 147.39 L300.29 147.65 L300.86 146.92 L301.45 148.56 L302.02 147.8 L302.57 149.49 L303.08 149.21 L303.72 149.66 L304.3 150.41 L304.85 148.81 L305.4 148.63 L305.96 149.55 L306.54 149.94 L307.12 150.12 L307.69 150.54 L308.27 152.59 L308.85 154.31 L309.42 154.24 L310 156.89 L310.58 158.2 L311.15 157.31 L311.73 160.27 L312.31 161.19 L312.88 161.94 L313.46 165.86 L314.04 165.46 L314.62 167.87 L315.19 169.66 L315.77 172.14 L316.35 172.92 L316.92 173.67 L317.5 175.24 L318.06 175.71 L318.61 179.13 L319.16 180.32 L319.75 179.25 L320.38 179.86 L320.89 181.33 L321.44 182.5 L322.02 184.96 L322.6 185.85 L323.17 186.5 L323.72 185.03 L324.23 187.72 L324.92 188.17 L325.59 188.47 L326.22 189.76 L326.74 187.4 L327.12 188.85" fill="none" stroke="#d84450" stroke-width="1.0" stroke-linejoin="round" />
<path d="M233.85 191.7 L234.15 193.36 L234.54 193.7 L235 193.02 L235.52 191.89 L236.08 192.63 L236.67 193.01 L237.27 191.09 L237.89 191.6 L238.49 191.3 L239.07 190.81 L239.62 191.68 L240.15 190.67 L240.69 190.72 L241.24 190.3 L241.79 191.64 L242.35 189.61 L242.89 191.41 L243.43 189.76 L243.95 189.13 L244.45 191.43 L244.93 189.24 L245.38 191.02 L246.03 190.49 L246.62 190.2 L247.17 187.73 L247.68 188.2 L248.19 186.79 L248.7 188.65 L249.23 187.88 L249.78 186.7 L250.33 185.56 L250.88 184.55 L251.43 185.18 L251.98 183.48 L252.53 183.18 L253.08 181.12 L253.63 180.64 L254.2 179.47 L254.78 180.6 L255.34 179.45 L255.89 177.62 L256.42 178.98 L256.92 176.65 L257.56 176.14 L258.15 174.46 L258.7 173.9 L259.25 174.8 L259.81 173 L260.38 172.53 L260.96 173.74 L261.54 173.76 L262.12 175.98 L262.69 174.3 L263.27 177.3 L263.85 175.41 L264.42 178.45 L265 178.39 L265.58 177.46 L266.14 178.25 L266.68 177.54 L267.24 177.16 L267.82 176.69 L268.46 176.93 L268.96 178.59 L269.49 178.53 L270.04 178.25 L270.61 175.88 L271.18 176.37 L271.75 178.04 L272.31 175.68 L272.86 177.58 L273.41 176.44 L273.96 178.44 L274.51 175.84 L275.05 178.13 L275.6 176.87 L276.15 176.3 L276.7 175.83 L277.25 178.01 L277.8 176.96 L278.35 175.81 L278.9 176.34 L279.45 177.55 L280 175.56 L280.55 176.62 L281.1 175.61 L281.65 175.98 L282.2 177.89 L282.75 177.92 L283.3 176.56 L283.85 176.13 L284.4 175.87 L284.97 176.92 L285.54 176.08 L286.11 174.86 L286.66 174.02 L287.19 174.47 L287.69 174.04 L288.33 173.4 L288.92 171.8 L289.47 169.67 L290.02 168.03 L290.58 168.34 L291.15 165.47 L291.73 164.02 L292.31 159.66 L292.88 159.3 L293.46 155.69 L294.04 154.88 L294.62 152.64 L295.19 149.44 L295.77 146.34 L296.35 147.69 L296.92 146.06 L297.5 147.33 L298.08 146.21 L298.65 146.77 L299.23 149.39 L299.81 149 L300.38 149.55 L300.96 151.38 L301.54 153.28 L302.12 152.84 L302.69 155.44 L303.27 156.39 L303.85 157.74 L304.42 157.78 L305 160.6 L305.58 162.04 L306.15 163.33 L306.73 162.96 L307.31 165.21 L307.88 165.44 L308.46 167.66 L309.04 166.94 L309.62 170.41 L310.19 171.78 L310.77 171.52 L311.35 172.47 L311.92 173.3 L312.5 174.04 L313.08 173.3 L313.65 176.69 L314.22 175.35 L314.76 175.94 L315.32 176.44 L315.9 177.64 L316.54 180.12 L317.04 178.66 L317.57 179.67 L318.12 182.23 L318.69 181.71 L319.26 182.09 L319.83 184.54 L320.38 185.21 L320.94 185.74 L321.51 186.89 L322.08 185.82 L322.65 188.54 L323.2 188.62 L323.73 187.19 L324.23 187.79 L324.92 189.22 L325.59 189.49 L326.22 189.01 L326.74 188.66 L327.12 189.81" fill="none" stroke="#3a3a3a" stroke-width="1.0" stroke-linejoin="round" />
<line x1="233.6" y1="146" x2="233.6" y2="194" stroke="#222" stroke-width="1.3" />
<rect x="27.8" y="24.2" width="97.2" height="82.2" fill="none" stroke="#141414" stroke-width="1.4"/>
<rect x="129.4" y="24.2" width="97" height="82.2" fill="none" stroke="#141414" stroke-width="1.4"/>
<rect x="231" y="24.2" width="96.8" height="82.2" fill="none" stroke="#141414" stroke-width="1.4"/>
<rect x="28" y="112" width="97.2" height="82.4" fill="none" stroke="#141414" stroke-width="1.4"/>
<rect x="130.1" y="112" width="96.8" height="82.4" fill="none" stroke="#141414" stroke-width="1.4"/>
<rect x="232.7" y="112" width="96.6" height="82.4" fill="none" stroke="#141414" stroke-width="1.4"/>
<text x="93.18" y="35.80" font-size="9.8" font-weight="normal" fill="#111" textLength="29.13" lengthAdjust="spacingAndGlyphs" stroke="#111" stroke-width="0.18">RCA-I</text>
<text x="202.22" y="36.30" font-size="9.8" font-weight="normal" fill="#111" textLength="20.88" lengthAdjust="spacingAndGlyphs" stroke="#111" stroke-width="0.18">ECA</text>
<text x="289.57" y="35.70" font-size="9.8" font-weight="normal" fill="#111" textLength="33.86" lengthAdjust="spacingAndGlyphs" stroke="#111" stroke-width="0.18">GS-IB4</text>
<text x="103.16" y="124.40" font-size="9.8" font-weight="normal" fill="#111" textLength="19.53" lengthAdjust="spacingAndGlyphs" stroke="#111" stroke-width="0.18">1B2</text>
<text x="203.95" y="124.40" font-size="9.8" font-weight="normal" fill="#111" textLength="19.78" lengthAdjust="spacingAndGlyphs" stroke="#111" stroke-width="0.18">3C9</text>
<text x="304.32" y="123.90" font-size="9.8" font-weight="normal" fill="#111" textLength="20.47" lengthAdjust="spacingAndGlyphs" stroke="#111" stroke-width="0.18">TH5</text>
<line x1="289.6" y1="81.5" x2="303" y2="81.5" stroke="#111" stroke-width="1.8" />
<text x="304.87" y="84.60" font-size="10" font-weight="bold" fill="#111" textLength="15.22" lengthAdjust="spacingAndGlyphs" >+/+</text>
<line x1="289.6" y1="94.5" x2="303" y2="94.5" stroke="#c02030" stroke-width="1.8" />
<text x="308.20" y="96.30" font-size="9.6" font-weight="bold" fill="#c02030" textLength="10.98" lengthAdjust="spacingAndGlyphs" >-/-</text>
<line x1="16.8" y1="43" x2="16.8" y2="92.5" stroke="#111" stroke-width="1.3" />
<path d="M16.8 36.2 L13.3 44 L16.8 42.6 L20.3 44 Z" fill="#111"/>
<text x="20.20" y="130.00" font-size="10.5" font-weight="normal" fill="#111" stroke="#111" stroke-width="0.12" textLength="33.18" lengthAdjust="spacingAndGlyphs" transform="rotate(-90 20.20 130.00)" >Counts</text>
<line x1="16.8" y1="132.4" x2="16.8" y2="168.7" stroke="#111" stroke-width="1.3" />
<line x1="57.7" y1="206.3" x2="155.4" y2="206.3" stroke="#111" stroke-width="1.3" />
<text x="158.91" y="209.20" font-size="10.2" font-weight="normal" fill="#111" stroke="#111" stroke-width="0.12" textLength="43.14" lengthAdjust="spacingAndGlyphs" >FL1 (log)</text>
<line x1="205.4" y1="206.3" x2="302.5" y2="206.3" stroke="#111" stroke-width="1.3" />
<path d="M308.6 206.3 L301 202.6 L302.6 206.3 L301 210.2 Z" fill="#111"/>
<text x="0.00" y="284.60" font-size="10.5" font-weight="bold" fill="#111" textLength="8.06" lengthAdjust="spacingAndGlyphs" >B</text>
<rect x="41.9" y="289.5" width="11.4" height="10.9" fill="#ffffff" stroke="#111" stroke-width="1.3"/>
<text x="56" y="296.7" font-size="6.5" text-anchor="start" font-weight="normal" fill="#222" >platelets +/+ PPP +/+</text>
<rect x="41.9" y="302.6" width="11.4" height="10.9" fill="#cbcbcb" stroke="#111" stroke-width="1.3"/>
<text x="56" y="309.8" font-size="6.5" text-anchor="start" font-weight="normal" fill="#222" >platelets +/+ PPP -/-</text>
<rect x="41.9" y="315.7" width="11.4" height="10.9" fill="#888888" stroke="#111" stroke-width="1.3"/>
<text x="56" y="323" font-size="6.5" text-anchor="start" font-weight="normal" fill="#222" >platelets -/-&#160;&#160;&#160;PPP +/+</text>
<rect x="41.9" y="328.8" width="11.4" height="10.9" fill="#0a0a0a" stroke="#111" stroke-width="1.3"/>
<text x="56" y="336.1" font-size="6.5" text-anchor="start" font-weight="normal" fill="#222" >platelets -/-&#160;&#160;&#160;PPP -/-</text>
<rect x="45.5" y="405.5" width="10" height="12.4" fill="#ffffff" stroke="#111" stroke-width="1.1"/>
<rect x="55.5" y="407.5" width="11" height="10.4" fill="#cbcbcb" stroke="#111" stroke-width="1.1"/>
<line x1="72.5" y1="406.31" x2="72.5" y2="404.33" stroke="#111" stroke-width="1.1" />
<line x1="70.7" y1="404.33" x2="74.3" y2="404.33" stroke="#111" stroke-width="1.2" />
<rect x="66.5" y="406.5" width="11" height="11.4" fill="#888888" stroke="#111" stroke-width="1.1"/>
<line x1="83.5" y1="408.63" x2="83.5" y2="408.14" stroke="#111" stroke-width="1.1" />
<line x1="81.7" y1="408.14" x2="85.3" y2="408.14" stroke="#111" stroke-width="1.2" />
<rect x="77.5" y="408.5" width="11" height="9.4" fill="#0a0a0a" stroke="#111" stroke-width="1.1"/>
<line x1="109.5" y1="394.4" x2="109.5" y2="393.41" stroke="#111" stroke-width="1.1" />
<line x1="107.7" y1="393.41" x2="111.3" y2="393.41" stroke="#111" stroke-width="1.2" />
<rect x="104.5" y="394.5" width="11" height="23.4" fill="#ffffff" stroke="#111" stroke-width="1.1"/>
<line x1="120.5" y1="378.18" x2="120.5" y2="370.57" stroke="#111" stroke-width="1.1" />
<line x1="118.7" y1="370.57" x2="122.3" y2="370.57" stroke="#111" stroke-width="1.2" />
<rect x="115.5" y="378.5" width="10" height="39.4" fill="#cbcbcb" stroke="#111" stroke-width="1.1"/>
<line x1="131.5" y1="392.41" x2="131.5" y2="391.75" stroke="#111" stroke-width="1.1" />
<line x1="129.7" y1="391.75" x2="133.3" y2="391.75" stroke="#111" stroke-width="1.2" />
<rect x="125.5" y="392.5" width="11" height="25.4" fill="#888888" stroke="#111" stroke-width="1.1"/>
<line x1="142.5" y1="359.64" x2="142.5" y2="357.33" stroke="#111" stroke-width="1.1" />
<line x1="140.7" y1="357.33" x2="144.3" y2="357.33" stroke="#111" stroke-width="1.2" />
<rect x="136.5" y="359.5" width="11" height="58.4" fill="#0a0a0a" stroke="#111" stroke-width="1.1"/>
<line x1="169.5" y1="381.82" x2="169.5" y2="380.83" stroke="#111" stroke-width="1.1" />
<line x1="167.7" y1="380.83" x2="171.3" y2="380.83" stroke="#111" stroke-width="1.2" />
<rect x="163.5" y="381.5" width="11" height="36.4" fill="#ffffff" stroke="#111" stroke-width="1.1"/>
<line x1="179.5" y1="335.81" x2="179.5" y2="334.82" stroke="#111" stroke-width="1.1" />
<line x1="177.7" y1="334.82" x2="181.3" y2="334.82" stroke="#111" stroke-width="1.2" />
<rect x="174.5" y="335.5" width="11" height="82.4" fill="#cbcbcb" stroke="#111" stroke-width="1.1"/>
<line x1="190.5" y1="377.52" x2="190.5" y2="376.52" stroke="#111" stroke-width="1.1" />
<line x1="188.7" y1="376.52" x2="192.3" y2="376.52" stroke="#111" stroke-width="1.2" />
<rect x="185.5" y="377.5" width="11" height="40.4" fill="#888888" stroke="#111" stroke-width="1.1"/>
<line x1="201.5" y1="316.94" x2="201.5" y2="313.63" stroke="#111" stroke-width="1.1" />
<line x1="199.7" y1="313.63" x2="203.3" y2="313.63" stroke="#111" stroke-width="1.2" />
<rect x="196.5" y="316.5" width="11" height="101.4" fill="#0a0a0a" stroke="#111" stroke-width="1.1"/>
<rect x="223.5" y="376.5" width="10" height="41.4" fill="#ffffff" stroke="#111" stroke-width="1.1"/>
<line x1="239.5" y1="325.55" x2="239.5" y2="323.9" stroke="#111" stroke-width="1.1" />
<line x1="237.7" y1="323.9" x2="241.3" y2="323.9" stroke="#111" stroke-width="1.2" />
<rect x="233.5" y="325.5" width="11" height="92.4" fill="#cbcbcb" stroke="#111" stroke-width="1.1"/>
<line x1="250.5" y1="367.59" x2="250.5" y2="366.59" stroke="#111" stroke-width="1.1" />
<line x1="248.7" y1="366.59" x2="252.3" y2="366.59" stroke="#111" stroke-width="1.2" />
<rect x="244.5" y="367.5" width="11" height="50.4" fill="#888888" stroke="#111" stroke-width="1.1"/>
<line x1="261.5" y1="309.33" x2="261.5" y2="299.07" stroke="#111" stroke-width="1.1" />
<line x1="259.7" y1="299.07" x2="263.3" y2="299.07" stroke="#111" stroke-width="1.2" />
<rect x="255.5" y="309.5" width="11" height="108.4" fill="#0a0a0a" stroke="#111" stroke-width="1.1"/>
<line x1="37.5" y1="285.4" x2="274.5" y2="285.4" stroke="#111" stroke-width="1.3" />
<line x1="274.5" y1="285.4" x2="274.5" y2="420.5" stroke="#111" stroke-width="1.3" />
<line x1="37.5" y1="285.4" x2="37.5" y2="418.6" stroke="#111" stroke-width="1.4" />
<line x1="36.8" y1="418" x2="275.2" y2="418" stroke="#111" stroke-width="1.4" />
<line x1="35.3" y1="417.9" x2="37.5" y2="417.9" stroke="#111" stroke-width="1.0" />
<text x="28.99" y="420.60" font-size="6.6" font-weight="normal" fill="#222" textLength="3.05" lengthAdjust="spacingAndGlyphs" >0</text>
<line x1="35.3" y1="401.35" x2="37.5" y2="401.35" stroke="#111" stroke-width="1.0" />
<text x="28.99" y="404.05" font-size="6.6" font-weight="normal" fill="#222" textLength="3.05" lengthAdjust="spacingAndGlyphs" >5</text>
<line x1="35.3" y1="384.8" x2="37.5" y2="384.8" stroke="#111" stroke-width="1.0" />
<text x="25.13" y="387.50" font-size="6.6" font-weight="normal" fill="#222" textLength="6.85" lengthAdjust="spacingAndGlyphs" >10</text>
<line x1="35.3" y1="368.25" x2="37.5" y2="368.25" stroke="#111" stroke-width="1.0" />
<text x="25.12" y="370.95" font-size="6.6" font-weight="normal" fill="#222" textLength="7.12" lengthAdjust="spacingAndGlyphs" >15</text>
<line x1="35.3" y1="351.7" x2="37.5" y2="351.7" stroke="#111" stroke-width="1.0" />
<text x="25.37" y="354.40" font-size="6.6" font-weight="normal" fill="#222" textLength="6.61" lengthAdjust="spacingAndGlyphs" >20</text>
<line x1="35.3" y1="335.15" x2="37.5" y2="335.15" stroke="#111" stroke-width="1.0" />
<text x="25.37" y="337.85" font-size="6.6" font-weight="normal" fill="#222" textLength="6.85" lengthAdjust="spacingAndGlyphs" >25</text>
<line x1="35.3" y1="318.6" x2="37.5" y2="318.6" stroke="#111" stroke-width="1.0" />
<text x="25.37" y="321.30" font-size="6.6" font-weight="normal" fill="#222" textLength="6.61" lengthAdjust="spacingAndGlyphs" >30</text>
<line x1="35.3" y1="302.05" x2="37.5" y2="302.05" stroke="#111" stroke-width="1.0" />
<text x="25.37" y="304.75" font-size="6.6" font-weight="normal" fill="#222" textLength="6.85" lengthAdjust="spacingAndGlyphs" >35</text>
<line x1="35.3" y1="285.5" x2="37.5" y2="285.5" stroke="#111" stroke-width="1.0" />
<text x="25.37" y="288.20" font-size="6.6" font-weight="normal" fill="#222" textLength="6.61" lengthAdjust="spacingAndGlyphs" >40</text>
<line x1="37.5" y1="418" x2="37.5" y2="420.5" stroke="#111" stroke-width="0.9" />
<line x1="96.75" y1="418" x2="96.75" y2="420.5" stroke="#111" stroke-width="0.9" />
<line x1="156" y1="418" x2="156" y2="420.5" stroke="#111" stroke-width="0.9" />
<line x1="215.25" y1="418" x2="215.25" y2="420.5" stroke="#111" stroke-width="0.9" />
<text x="65.42" y="429.60" font-size="6.2" font-weight="normal" fill="#222" textLength="3.91" lengthAdjust="spacingAndGlyphs" stroke="#222" stroke-width="0.15">0</text>
<text x="119.87" y="429.60" font-size="6.2" font-weight="normal" fill="#222" textLength="13.30" lengthAdjust="spacingAndGlyphs" stroke="#222" stroke-width="0.15">0,25</text>
<text x="181.29" y="429.60" font-size="6.2" font-weight="normal" fill="#222" textLength="9.08" lengthAdjust="spacingAndGlyphs" stroke="#222" stroke-width="0.15">0,5</text>
<text x="243.90" y="429.60" font-size="6.2" font-weight="normal" fill="#222" textLength="2.76" lengthAdjust="spacingAndGlyphs" stroke="#222" stroke-width="0.15">1</text>
<path d="M107.3 375.3 L107.3 373.1 L117.2 373.1 L117.2 375.3" fill="none" stroke="#111" stroke-width="1.1"/>
<text x="112.2" y="371.4" font-size="6.4" text-anchor="middle" font-weight="normal" fill="#111" stroke="#111" stroke-width="0.1">NS</text>
<path d="M129 355.4 L129 353.2 L139.5 353.2 L139.5 355.4" fill="none" stroke="#111" stroke-width="1.1"/>
<line x1="130.9" y1="347.4" x2="130.9" y2="352.4" stroke="#333" stroke-width="0.85" />
<line x1="133.07" y1="348.65" x2="128.73" y2="351.15" stroke="#333" stroke-width="0.85" />
<line x1="133.07" y1="351.15" x2="128.73" y2="348.65" stroke="#333" stroke-width="0.85" />
<line x1="137.7" y1="347.4" x2="137.7" y2="352.4" stroke="#333" stroke-width="0.85" />
<line x1="139.87" y1="348.65" x2="135.53" y2="351.15" stroke="#333" stroke-width="0.85" />
<line x1="139.87" y1="351.15" x2="135.53" y2="348.65" stroke="#333" stroke-width="0.85" />
<path d="M121.8 344.5 L121.8 342.3 L140 342.3 L140 344.5" fill="none" stroke="#111" stroke-width="1.1"/>
<text x="130.9" y="340.9" font-size="6.4" text-anchor="middle" font-weight="normal" fill="#111" stroke="#111" stroke-width="0.1">NS</text>
<path d="M167 331.7 L167 329.5 L177.6 329.5 L177.6 331.7" fill="none" stroke="#111" stroke-width="1.1"/>
<line x1="168.9" y1="323.4" x2="168.9" y2="328.4" stroke="#333" stroke-width="0.85" />
<line x1="171.07" y1="324.65" x2="166.73" y2="327.15" stroke="#333" stroke-width="0.85" />
<line x1="171.07" y1="327.15" x2="166.73" y2="324.65" stroke="#333" stroke-width="0.85" />
<line x1="175.7" y1="323.4" x2="175.7" y2="328.4" stroke="#333" stroke-width="0.85" />
<line x1="177.87" y1="324.65" x2="173.53" y2="327.15" stroke="#333" stroke-width="0.85" />
<line x1="177.87" y1="327.15" x2="173.53" y2="324.65" stroke="#333" stroke-width="0.85" />
<path d="M188.2 311.5 L188.2 309.3 L198.3 309.3 L198.3 311.5" fill="none" stroke="#111" stroke-width="1.1"/>
<line x1="189.9" y1="303.4" x2="189.9" y2="308.4" stroke="#333" stroke-width="0.85" />
<line x1="192.07" y1="304.65" x2="187.73" y2="307.15" stroke="#333" stroke-width="0.85" />
<line x1="192.07" y1="307.15" x2="187.73" y2="304.65" stroke="#333" stroke-width="0.85" />
<line x1="196.7" y1="303.4" x2="196.7" y2="308.4" stroke="#333" stroke-width="0.85" />
<line x1="198.87" y1="304.65" x2="194.53" y2="307.15" stroke="#333" stroke-width="0.85" />
<line x1="198.87" y1="307.15" x2="194.53" y2="304.65" stroke="#333" stroke-width="0.85" />
<path d="M181 302.6 L181 300.4 L199.4 300.4 L199.4 302.6" fill="none" stroke="#111" stroke-width="1.1"/>
<line x1="186.2" y1="293.4" x2="186.2" y2="298.4" stroke="#333" stroke-width="0.85" />
<line x1="188.37" y1="294.65" x2="184.03" y2="297.15" stroke="#333" stroke-width="0.85" />
<line x1="188.37" y1="297.15" x2="184.03" y2="294.65" stroke="#333" stroke-width="0.85" />
<line x1="193" y1="293.4" x2="193" y2="298.4" stroke="#333" stroke-width="0.85" />
<line x1="195.17" y1="294.65" x2="190.83" y2="297.15" stroke="#333" stroke-width="0.85" />
<line x1="195.17" y1="297.15" x2="190.83" y2="294.65" stroke="#333" stroke-width="0.85" />
<path d="M226.1 321.2 L226.1 319 L236.5 319 L236.5 321.2" fill="none" stroke="#111" stroke-width="1.1"/>
<line x1="227.9" y1="312.4" x2="227.9" y2="317.4" stroke="#333" stroke-width="0.85" />
<line x1="230.07" y1="313.65" x2="225.73" y2="316.15" stroke="#333" stroke-width="0.85" />
<line x1="230.07" y1="316.15" x2="225.73" y2="313.65" stroke="#333" stroke-width="0.85" />
<line x1="234.7" y1="312.4" x2="234.7" y2="317.4" stroke="#333" stroke-width="0.85" />
<line x1="236.87" y1="313.65" x2="232.53" y2="316.15" stroke="#333" stroke-width="0.85" />
<line x1="236.87" y1="316.15" x2="232.53" y2="313.65" stroke="#333" stroke-width="0.85" />
<path d="M246.3 306 L246.3 303.8 L257.1 303.8 L257.1 306" fill="none" stroke="#111" stroke-width="1.1"/>
<line x1="248.3" y1="297.6" x2="248.3" y2="302.6" stroke="#333" stroke-width="0.85" />
<line x1="250.47" y1="298.85" x2="246.13" y2="301.35" stroke="#333" stroke-width="0.85" />
<line x1="250.47" y1="301.35" x2="246.13" y2="298.85" stroke="#333" stroke-width="0.85" />
<line x1="255.1" y1="297.6" x2="255.1" y2="302.6" stroke="#333" stroke-width="0.85" />
<line x1="257.27" y1="298.85" x2="252.93" y2="301.35" stroke="#333" stroke-width="0.85" />
<line x1="257.27" y1="301.35" x2="252.93" y2="298.85" stroke="#333" stroke-width="0.85" />
<path d="M238.3 295.6 L238.3 293.4 L257.6 293.4 L257.6 295.6" fill="none" stroke="#111" stroke-width="1.1"/>
<text x="247.7" y="292.3" font-size="6.4" text-anchor="middle" font-weight="normal" fill="#111" stroke="#111" stroke-width="0.1">NS</text>
<line x1="16" y1="314.5" x2="16" y2="343.4" stroke="#111" stroke-width="1.3" />
<path d="M16.0 308.6 L12.2 316 L16.0 314.4 L19.8 316 Z" fill="#111"/>
<text x="18.60" y="365.75" font-size="10.2" font-weight="normal" fill="#111" stroke="#111" stroke-width="0.12" textLength="19.96" lengthAdjust="spacingAndGlyphs" transform="rotate(-90 18.60 365.75)" >MFI</text>
<line x1="16" y1="368.2" x2="16" y2="397.8" stroke="#111" stroke-width="1.3" />
<line x1="91.1" y1="440.8" x2="107.2" y2="440.8" stroke="#111" stroke-width="1.3" />
<text x="112.38" y="442.70" font-size="10.0" font-weight="normal" fill="#111" stroke="#111" stroke-width="0.12" textLength="81.98" lengthAdjust="spacingAndGlyphs" >Botrocetin (U/ml)</text>
<line x1="200" y1="440.4" x2="215" y2="440.4" stroke="#111" stroke-width="1.3" />
<path d="M220.8 440.4 L213.6 436.6 L215.2 440.4 L213.6 444.2 Z" fill="#111"/>
<text x="343.27" y="9.90" font-size="11" font-weight="bold" fill="#111" textLength="8.41" lengthAdjust="spacingAndGlyphs" >C</text>
<rect x="387.6" y="24" width="127.9" height="123.5" fill="none" stroke="#111" stroke-width="1.4"/>
<line x1="385.8" y1="147.5" x2="387.6" y2="147.5" stroke="#111" stroke-width="1.0" />
<text x="382.9" y="150.1" font-size="7.2" text-anchor="end" font-weight="normal" fill="#222" stroke="#222" stroke-width="0.12">0</text>
<line x1="385.8" y1="135.15" x2="387.6" y2="135.15" stroke="#111" stroke-width="1.0" />
<text x="382.9" y="137.75" font-size="7.2" text-anchor="end" font-weight="normal" fill="#222" stroke="#222" stroke-width="0.12">20</text>
<line x1="385.8" y1="122.8" x2="387.6" y2="122.8" stroke="#111" stroke-width="1.0" />
<text x="382.9" y="125.4" font-size="7.2" text-anchor="end" font-weight="normal" fill="#222" stroke="#222" stroke-width="0.12">40</text>
<line x1="385.8" y1="110.45" x2="387.6" y2="110.45" stroke="#111" stroke-width="1.0" />
<text x="382.9" y="113.05" font-size="7.2" text-anchor="end" font-weight="normal" fill="#222" stroke="#222" stroke-width="0.12">60</text>
<line x1="385.8" y1="98.1" x2="387.6" y2="98.1" stroke="#111" stroke-width="1.0" />
<text x="382.9" y="100.7" font-size="7.2" text-anchor="end" font-weight="normal" fill="#222" stroke="#222" stroke-width="0.12">80</text>
<line x1="385.8" y1="85.75" x2="387.6" y2="85.75" stroke="#111" stroke-width="1.0" />
<text x="382.9" y="88.35" font-size="7.2" text-anchor="end" font-weight="normal" fill="#222" stroke="#222" stroke-width="0.12">100</text>
<line x1="385.8" y1="73.4" x2="387.6" y2="73.4" stroke="#111" stroke-width="1.0" />
<text x="382.9" y="76" font-size="7.2" text-anchor="end" font-weight="normal" fill="#222" stroke="#222" stroke-width="0.12">120</text>
<line x1="385.8" y1="61.05" x2="387.6" y2="61.05" stroke="#111" stroke-width="1.0" />
<text x="382.9" y="63.65" font-size="7.2" text-anchor="end" font-weight="normal" fill="#222" stroke="#222" stroke-width="0.12">140</text>
<line x1="385.8" y1="48.7" x2="387.6" y2="48.7" stroke="#111" stroke-width="1.0" />
<text x="382.9" y="51.3" font-size="7.2" text-anchor="end" font-weight="normal" fill="#222" stroke="#222" stroke-width="0.12">160</text>
<line x1="385.8" y1="36.35" x2="387.6" y2="36.35" stroke="#111" stroke-width="1.0" />
<text x="382.9" y="38.95" font-size="7.2" text-anchor="end" font-weight="normal" fill="#222" stroke="#222" stroke-width="0.12">180</text>
<line x1="385.8" y1="24" x2="387.6" y2="24" stroke="#111" stroke-width="1.0" />
<text x="382.9" y="26.6" font-size="7.2" text-anchor="end" font-weight="normal" fill="#222" stroke="#222" stroke-width="0.12">200</text>
<line x1="387.6" y1="147.5" x2="387.6" y2="149.4" stroke="#111" stroke-width="1.0" />
<line x1="419.58" y1="147.5" x2="419.58" y2="149.4" stroke="#111" stroke-width="1.0" />
<line x1="451.56" y1="147.5" x2="451.56" y2="149.4" stroke="#111" stroke-width="1.0" />
<line x1="483.54" y1="147.5" x2="483.54" y2="149.4" stroke="#111" stroke-width="1.0" />
<line x1="515.52" y1="147.5" x2="515.52" y2="149.4" stroke="#111" stroke-width="1.0" />
<text x="413.10" y="17.70" font-size="10" font-weight="normal" fill="#111" stroke="#111" stroke-width="0.12" textLength="68.74" lengthAdjust="spacingAndGlyphs" >Wild-type mice</text>
<text x="367.60" y="131.56" font-size="10.4" font-weight="normal" fill="#111" stroke="#111" stroke-width="0.12" textLength="93.33" lengthAdjust="spacingAndGlyphs" transform="rotate(-90 367.60 131.56)" >Platelet survival (%)</text>
<rect x="454.3" y="24.0" width="61.19999999999999" height="59.099999999999994" fill="#fff" stroke="none"/>
<path d="M455 82.39 L454.99 79.72 L455.2 77.61 L455.65 76.98 L456.27 75.44 L457 75.09 L457.62 74.33 L458.32 72.52 L459.03 72.18 L459.7 71.33 L460.5 69.67 L461.26 68.87 L462 68.41 L462.76 66.79 L463.5 65.25 L464.2 64.53 L464.8 63.03 L465.36 61.21 L466 59.69 L466.63 58.62 L467.36 57.48 L468.05 56.87 L468.6 55.47 L469.16 53.11 L469.5 51.38 L469.9 52.66 L470.3 52.46 L470.75 48.96 L471.2 45.55 L471.62 46.86 L472 47.7 L472.31 45.06 L472.6 42.66 L472.94 44.43 L473.3 47.04 L473.63 45.01 L474 43.92 L474.42 45.38 L475 47.42 L475.59 49.6 L476.3 52.97 L477 55.33 L477.67 58.41 L478.33 61.16 L479 64.37 L479.67 67.24 L480.33 69.91 L481 71.44 L481.67 74.71 L482.33 76.68 L483 79.21 L483.74 80.28 L484.48 81.77 L485 82.5" fill="#fff" stroke="#222" stroke-width="0.95" stroke-linejoin="round" stroke-dasharray="1.4 0.7"/>
<path d="M462 83.14 L462.59 81.53 L463.41 79.28 L464.2 77.52 L464.84 75.55 L465.44 74.05 L466 71.83 L466.74 70.16 L467.5 68.62 L468.15 66.1 L468.86 64.05 L469.5 62.36 L470.23 60.75 L470.9 59.41 L471.71 56.84 L472.5 54.03 L473.15 51.96 L473.7 50.3 L474.12 47.67 L474.5 45.83 L474.89 46.86 L475.3 47.83 L475.75 46.28 L476.2 44.17 L476.61 43.27 L477 43.07 L477.41 44.51 L477.8 46.06 L478.06 45.11 L478.4 43.76 L479.07 45.4 L479.8 47.27 L480.34 49.56 L480.8 52.09 L481.15 54.56 L481.5 57.15 L482 59.93 L482.5 62.78 L482.86 65.77 L483.2 68.41 L483.61 71.44 L484 73.61 L484.28 75.73 L484.6 77.79 L485.16 79.43 L485.8 81.55 L486.47 82.39 L487 82.8 Z" fill="#6c6c6c" stroke="#444" stroke-width="0.7"/>
<path d="M484 82.26 L484.6 82.33 L485.2 82.13 L485.8 82.09 L486.4 81.81 L487 81.56 L487.6 81.38 L488.2 80.86 L488.8 80.19 L489.4 79.49 L490 78.51 L490.6 77.34 L491.2 75.64 L491.8 73.8 L492.4 71.79 L493 69.14 L493.6 65.97 L494.2 62.72 L494.8 59.1 L495.4 55.4 L496 51.36 L496.6 47.45 L497.2 43.49 L497.8 39.57 L498.4 36.37 L499 33.53 L499.6 31.32 L500.2 29.62 L500.8 29.17 L501.4 29.28 L502 30.58 L502.6 32.05 L503.2 35.45 L503.8 38.37 L504.4 42.87 L505 47.06 L505.6 51.42 L506.2 56.01 L506.8 59.99 L507.4 63.79 L508 67.41 L508.6 70.48 L509.2 73.01 L509.8 75.13 L510.4 76.93 L511 78.35 L511.6 79.51 L512.2 80.26 L512.8 80.91 L513.4 81.4 L514 81.7" fill="none" stroke="#777" stroke-width="0.8" stroke-linejoin="round" />
<rect x="454.3" y="24" width="61.2" height="59.1" fill="none" stroke="#111" stroke-width="1.4"/>
<text x="464.41" y="34.00" font-size="8.2" font-weight="normal" fill="#111" textLength="21.71" lengthAdjust="spacingAndGlyphs" stroke="#111" stroke-width="0.12">+OSP</text>
<line x1="484.6" y1="35.3" x2="481.2" y2="46" stroke="#111" stroke-width="1.3" />
<path d="M480.1 49.6 L478.9 44.3 L481.3 45.9 L483.6 45.2 Z" fill="#111"/>
<text x="458.00" y="92.10" font-size="8.5" font-weight="normal" fill="#222" stroke="#222" stroke-width="0.12" textLength="53.51" lengthAdjust="spacingAndGlyphs" >Anti GPIb&#945;-PE</text>
<text x="478.71" y="102.00" font-size="8.6" font-weight="normal" fill="#222" stroke="#222" stroke-width="0.12" textLength="16.94" lengthAdjust="spacingAndGlyphs" >(log)</text>
<path d="M387.6 85.75 L390.8 95.01 L425.98 108.6 L464.35 126.2 L502.73 136.01" fill="none" stroke="#111" stroke-width="1.4" stroke-linejoin="round" />
<path d="M387.6 54.87 L390.8 57.96 L425.98 87.23 L464.35 113.72 L502.73 131.69" fill="none" stroke="#111" stroke-width="1.4" stroke-linejoin="round" />
<line x1="387.5" y1="47.2" x2="387.5" y2="62.1" stroke="#111" stroke-width="1.15" />
<line x1="385.3" y1="47.2" x2="389.7" y2="47.2" stroke="#111" stroke-width="1.15" />
<line x1="385.3" y1="62.1" x2="389.7" y2="62.1" stroke="#111" stroke-width="1.15" />
<line x1="390.5" y1="38.6" x2="390.5" y2="76.2" stroke="#111" stroke-width="1.15" />
<line x1="387.7" y1="38.6" x2="393.3" y2="38.6" stroke="#111" stroke-width="1.15" />
<line x1="387.7" y1="76.2" x2="393.3" y2="76.2" stroke="#111" stroke-width="1.15" />
<line x1="425.5" y1="77.5" x2="425.5" y2="96.8" stroke="#111" stroke-width="1.15" />
<line x1="422.7" y1="77.5" x2="428.3" y2="77.5" stroke="#111" stroke-width="1.15" />
<line x1="422.7" y1="96.8" x2="428.3" y2="96.8" stroke="#111" stroke-width="1.15" />
<line x1="464.5" y1="109.4" x2="464.5" y2="118.4" stroke="#111" stroke-width="1.15" />
<line x1="461.7" y1="109.4" x2="467.3" y2="109.4" stroke="#111" stroke-width="1.15" />
<line x1="461.7" y1="118.4" x2="467.3" y2="118.4" stroke="#111" stroke-width="1.15" />
<line x1="502.5" y1="129.5" x2="502.5" y2="134" stroke="#111" stroke-width="1.15" />
<line x1="499.7" y1="129.5" x2="505.3" y2="129.5" stroke="#111" stroke-width="1.15" />
<line x1="499.7" y1="134" x2="505.3" y2="134" stroke="#111" stroke-width="1.15" />
<line x1="390.5" y1="92.6" x2="390.5" y2="99.4" stroke="#111" stroke-width="1.15" />
<line x1="387.7" y1="92.6" x2="393.3" y2="92.6" stroke="#111" stroke-width="1.15" />
<line x1="387.7" y1="99.4" x2="393.3" y2="99.4" stroke="#111" stroke-width="1.15" />
<line x1="425.5" y1="103.8" x2="425.5" y2="113.4" stroke="#111" stroke-width="1.15" />
<line x1="422.7" y1="103.8" x2="428.3" y2="103.8" stroke="#111" stroke-width="1.15" />
<line x1="422.7" y1="113.4" x2="428.3" y2="113.4" stroke="#111" stroke-width="1.15" />
<rect x="385.65" y="83.8" width="3.9" height="3.9" fill="#111" stroke="#111" stroke-width="1.0"/>
<rect x="388.85" y="93.06" width="3.9" height="3.9" fill="#111" stroke="#111" stroke-width="1.0"/>
<rect x="424.03" y="106.65" width="3.9" height="3.9" fill="#111" stroke="#111" stroke-width="1.0"/>
<rect x="462.4" y="124.25" width="3.9" height="3.9" fill="#111" stroke="#111" stroke-width="1.0"/>
<rect x="500.78" y="134.06" width="3.9" height="3.9" fill="#111" stroke="#111" stroke-width="1.0"/>
<rect x="385.3" y="52.57" width="4.6" height="4.6" fill="#fff" stroke="#111" stroke-width="1.2"/>
<rect x="388.5" y="55.66" width="4.6" height="4.6" fill="#fff" stroke="#111" stroke-width="1.2"/>
<rect x="423.68" y="84.93" width="4.6" height="4.6" fill="#fff" stroke="#111" stroke-width="1.2"/>
<rect x="462.05" y="111.42" width="4.6" height="4.6" fill="#fff" stroke="#111" stroke-width="1.2"/>
<rect x="500.43" y="129.39" width="4.6" height="4.6" fill="#fff" stroke="#111" stroke-width="1.2"/>
<text x="387.5" y="160.4" font-size="7.2" text-anchor="middle" font-weight="normal" fill="#222" stroke="#222" stroke-width="0.12">0</text>
<text x="419.48" y="160.4" font-size="7.2" text-anchor="middle" font-weight="normal" fill="#222" stroke="#222" stroke-width="0.12">20</text>
<text x="451.46" y="160.4" font-size="7.2" text-anchor="middle" font-weight="normal" fill="#222" stroke="#222" stroke-width="0.12">40</text>
<text x="483.44" y="160.4" font-size="7.2" text-anchor="middle" font-weight="normal" fill="#222" stroke="#222" stroke-width="0.12">60</text>
<text x="515.42" y="160.4" font-size="7.2" text-anchor="middle" font-weight="normal" fill="#222" stroke="#222" stroke-width="0.12">80</text>
<rect x="387.6" y="189.4" width="127.9" height="124.2" fill="none" stroke="#111" stroke-width="1.4"/>
<line x1="385.8" y1="313.6" x2="387.6" y2="313.6" stroke="#111" stroke-width="1.0" />
<text x="382.9" y="316.2" font-size="7.2" text-anchor="end" font-weight="normal" fill="#222" stroke="#222" stroke-width="0.12">0</text>
<line x1="385.8" y1="301.18" x2="387.6" y2="301.18" stroke="#111" stroke-width="1.0" />
<text x="382.9" y="303.78" font-size="7.2" text-anchor="end" font-weight="normal" fill="#222" stroke="#222" stroke-width="0.12">20</text>
<line x1="385.8" y1="288.76" x2="387.6" y2="288.76" stroke="#111" stroke-width="1.0" />
<text x="382.9" y="291.36" font-size="7.2" text-anchor="end" font-weight="normal" fill="#222" stroke="#222" stroke-width="0.12">40</text>
<line x1="385.8" y1="276.34" x2="387.6" y2="276.34" stroke="#111" stroke-width="1.0" />
<text x="382.9" y="278.94" font-size="7.2" text-anchor="end" font-weight="normal" fill="#222" stroke="#222" stroke-width="0.12">60</text>
<line x1="385.8" y1="263.92" x2="387.6" y2="263.92" stroke="#111" stroke-width="1.0" />
<text x="382.9" y="266.52" font-size="7.2" text-anchor="end" font-weight="normal" fill="#222" stroke="#222" stroke-width="0.12">80</text>
<line x1="385.8" y1="251.5" x2="387.6" y2="251.5" stroke="#111" stroke-width="1.0" />
<text x="382.9" y="254.1" font-size="7.2" text-anchor="end" font-weight="normal" fill="#222" stroke="#222" stroke-width="0.12">100</text>
<line x1="385.8" y1="239.08" x2="387.6" y2="239.08" stroke="#111" stroke-width="1.0" />
<text x="382.9" y="241.68" font-size="7.2" text-anchor="end" font-weight="normal" fill="#222" stroke="#222" stroke-width="0.12">120</text>
<line x1="385.8" y1="226.66" x2="387.6" y2="226.66" stroke="#111" stroke-width="1.0" />
<text x="382.9" y="229.26" font-size="7.2" text-anchor="end" font-weight="normal" fill="#222" stroke="#222" stroke-width="0.12">140</text>
<line x1="385.8" y1="214.24" x2="387.6" y2="214.24" stroke="#111" stroke-width="1.0" />
<text x="382.9" y="216.84" font-size="7.2" text-anchor="end" font-weight="normal" fill="#222" stroke="#222" stroke-width="0.12">160</text>
<line x1="385.8" y1="201.82" x2="387.6" y2="201.82" stroke="#111" stroke-width="1.0" />
<text x="382.9" y="204.42" font-size="7.2" text-anchor="end" font-weight="normal" fill="#222" stroke="#222" stroke-width="0.12">180</text>
<line x1="385.8" y1="189.4" x2="387.6" y2="189.4" stroke="#111" stroke-width="1.0" />
<text x="382.9" y="192" font-size="7.2" text-anchor="end" font-weight="normal" fill="#222" stroke="#222" stroke-width="0.12">200</text>
<line x1="387.6" y1="313.6" x2="387.6" y2="315.5" stroke="#111" stroke-width="1.0" />
<line x1="419.58" y1="313.6" x2="419.58" y2="315.5" stroke="#111" stroke-width="1.0" />
<line x1="451.56" y1="313.6" x2="451.56" y2="315.5" stroke="#111" stroke-width="1.0" />
<line x1="483.54" y1="313.6" x2="483.54" y2="315.5" stroke="#111" stroke-width="1.0" />
<line x1="515.52" y1="313.6" x2="515.52" y2="315.5" stroke="#111" stroke-width="1.0" />
<text x="412.79" y="183.60" font-size="10.3" font-weight="normal" fill="#111" stroke="#111" stroke-width="0.12" textLength="80.80" lengthAdjust="spacingAndGlyphs" >ST3Gal-IV<tspan font-size="6.2" dy="-3.6">-/-</tspan><tspan dy="3.6"> mice</tspan></text>
<text x="367.80" y="298.56" font-size="10.4" font-weight="normal" fill="#111" stroke="#111" stroke-width="0.12" textLength="93.54" lengthAdjust="spacingAndGlyphs" transform="rotate(-90 367.80 298.56)" >Platelet survival (%)</text>
<path d="M387.6 251.5 L390.8 274.17 L425.98 289.13 L464.35 304.16 L502.73 311.12" fill="none" stroke="#111" stroke-width="1.4" stroke-linejoin="round" />
<path d="M387.6 198.72 L390.8 227.09 L425.98 254.29 L464.35 292.05 L502.73 304.16" fill="none" stroke="#111" stroke-width="1.4" stroke-linejoin="round" />
<line x1="391.5" y1="202.8" x2="391.5" y2="249.2" stroke="#111" stroke-width="1.15" />
<line x1="388.7" y1="202.8" x2="394.3" y2="202.8" stroke="#111" stroke-width="1.15" />
<line x1="388.7" y1="249.2" x2="394.3" y2="249.2" stroke="#111" stroke-width="1.15" />
<line x1="425.5" y1="241.7" x2="425.5" y2="266.9" stroke="#111" stroke-width="1.15" />
<line x1="422.7" y1="241.7" x2="428.3" y2="241.7" stroke="#111" stroke-width="1.15" />
<line x1="422.7" y1="266.9" x2="428.3" y2="266.9" stroke="#111" stroke-width="1.15" />
<line x1="464.5" y1="286.9" x2="464.5" y2="296" stroke="#111" stroke-width="1.15" />
<line x1="461.7" y1="286.9" x2="467.3" y2="286.9" stroke="#111" stroke-width="1.15" />
<line x1="461.7" y1="296" x2="467.3" y2="296" stroke="#111" stroke-width="1.15" />
<line x1="502.5" y1="302" x2="502.5" y2="307.5" stroke="#111" stroke-width="1.15" />
<line x1="499.7" y1="302" x2="505.3" y2="302" stroke="#111" stroke-width="1.15" />
<line x1="499.7" y1="307.5" x2="505.3" y2="307.5" stroke="#111" stroke-width="1.15" />
<line x1="390.5" y1="264.8" x2="390.5" y2="282.1" stroke="#111" stroke-width="1.15" />
<line x1="387.7" y1="264.8" x2="393.3" y2="264.8" stroke="#111" stroke-width="1.15" />
<line x1="387.7" y1="282.1" x2="393.3" y2="282.1" stroke="#111" stroke-width="1.15" />
<line x1="425.5" y1="283.6" x2="425.5" y2="295.1" stroke="#111" stroke-width="1.15" />
<line x1="422.7" y1="283.6" x2="428.3" y2="283.6" stroke="#111" stroke-width="1.15" />
<line x1="422.7" y1="295.1" x2="428.3" y2="295.1" stroke="#111" stroke-width="1.15" />
<line x1="464.5" y1="299.4" x2="464.5" y2="306" stroke="#111" stroke-width="1.15" />
<line x1="461.7" y1="299.4" x2="467.3" y2="299.4" stroke="#111" stroke-width="1.15" />
<line x1="461.7" y1="306" x2="467.3" y2="306" stroke="#111" stroke-width="1.15" />
<path d="M387.6 247.98 L390.75 253.65 L384.45 253.65 Z" fill="#111" stroke="#111" stroke-width="1.1"/>
<path d="M390.8 270.65 L393.95 276.32 L387.65 276.32 Z" fill="#111" stroke="#111" stroke-width="1.1"/>
<path d="M425.98 285.62 L429.13 291.29 L422.83 291.29 Z" fill="#111" stroke="#111" stroke-width="1.1"/>
<path d="M464.35 300.65 L467.5 306.32 L461.2 306.32 Z" fill="#111" stroke="#111" stroke-width="1.1"/>
<path d="M502.73 307.6 L505.88 313.27 L499.58 313.27 Z" fill="#111" stroke="#111" stroke-width="1.1"/>
<path d="M387.6 195.2 L390.75 200.87 L384.45 200.87 Z" fill="#fff" stroke="#111" stroke-width="1.1"/>
<path d="M390.8 223.58 L393.95 229.25 L387.65 229.25 Z" fill="#fff" stroke="#111" stroke-width="1.1"/>
<path d="M425.98 250.78 L429.13 256.45 L422.83 256.45 Z" fill="#fff" stroke="#111" stroke-width="1.1"/>
<path d="M464.35 288.54 L467.5 294.21 L461.2 294.21 Z" fill="#fff" stroke="#111" stroke-width="1.1"/>
<path d="M502.73 300.65 L505.88 306.32 L499.58 306.32 Z" fill="#fff" stroke="#111" stroke-width="1.1"/>
<text x="387.5" y="326.3" font-size="7.2" text-anchor="middle" font-weight="normal" fill="#222" stroke="#222" stroke-width="0.12">0</text>
<text x="419.48" y="326.3" font-size="7.2" text-anchor="middle" font-weight="normal" fill="#222" stroke="#222" stroke-width="0.12">20</text>
<text x="451.46" y="326.3" font-size="7.2" text-anchor="middle" font-weight="normal" fill="#222" stroke="#222" stroke-width="0.12">40</text>
<text x="483.44" y="326.3" font-size="7.2" text-anchor="middle" font-weight="normal" fill="#222" stroke="#222" stroke-width="0.12">60</text>
<text x="515.42" y="326.3" font-size="7.2" text-anchor="middle" font-weight="normal" fill="#222" stroke="#222" stroke-width="0.12">80</text>
<text x="433.35" y="336.30" font-size="10.3" font-weight="normal" fill="#111" stroke="#111" stroke-width="0.12" textLength="38.16" lengthAdjust="spacingAndGlyphs" >Time (h)</text>
<text x="343.49" y="356.30" font-size="10" font-weight="bold" fill="#111" textLength="7.84" lengthAdjust="spacingAndGlyphs" >D</text>
<line x1="446" y1="422.43" x2="446" y2="414.27" stroke="#222" stroke-width="1.1" />
<line x1="444" y1="414.27" x2="448" y2="414.27" stroke="#222" stroke-width="1.1" />
<rect x="435.8" y="422.43" width="20.6" height="21.47" fill="#050505" stroke="#111" stroke-width="1.0"/>
<line x1="474.2" y1="380.99" x2="474.2" y2="370.47" stroke="#222" stroke-width="1.1" />
<line x1="472.2" y1="370.47" x2="476.2" y2="370.47" stroke="#222" stroke-width="1.1" />
<rect x="464" y="380.99" width="20.2" height="62.91" fill="#c4c4c4" stroke="#111" stroke-width="1.0"/>
<rect x="412.3" y="358" width="95.5" height="85.9" fill="none" stroke="#333" stroke-width="1.1"/>
<line x1="410.6" y1="443.9" x2="412.3" y2="443.9" stroke="#333" stroke-width="0.8" />
<text x="408.5" y="445.7" font-size="5.2" text-anchor="end" font-weight="normal" fill="#333" stroke="#333" stroke-width="0.1">0,0</text>
<line x1="410.6" y1="422.43" x2="412.3" y2="422.43" stroke="#333" stroke-width="0.8" />
<text x="408.5" y="424.23" font-size="5.2" text-anchor="end" font-weight="normal" fill="#333" stroke="#333" stroke-width="0.1">1,0</text>
<line x1="410.6" y1="400.96" x2="412.3" y2="400.96" stroke="#333" stroke-width="0.8" />
<text x="408.5" y="402.76" font-size="5.2" text-anchor="end" font-weight="normal" fill="#333" stroke="#333" stroke-width="0.1">2,0</text>
<line x1="410.6" y1="379.49" x2="412.3" y2="379.49" stroke="#333" stroke-width="0.8" />
<text x="408.5" y="381.29" font-size="5.2" text-anchor="end" font-weight="normal" fill="#333" stroke="#333" stroke-width="0.1">3,0</text>
<line x1="410.6" y1="358.02" x2="412.3" y2="358.02" stroke="#333" stroke-width="0.8" />
<text x="408.5" y="359.82" font-size="5.2" text-anchor="end" font-weight="normal" fill="#333" stroke="#333" stroke-width="0.1">4,0</text>
<path d="M449.2 379 L449.2 375 L467.7 375 L467.7 379" fill="none" stroke="#111" stroke-width="1.0"/>
<line x1="458.5" y1="367.6" x2="458.5" y2="372.2" stroke="#333" stroke-width="0.85" />
<line x1="460.49" y1="368.75" x2="456.51" y2="371.05" stroke="#333" stroke-width="0.85" />
<line x1="460.49" y1="371.05" x2="456.51" y2="368.75" stroke="#333" stroke-width="0.85" />
<text x="368.00" y="438.16" font-size="9.9" font-weight="normal" fill="#111" stroke="#111" stroke-width="0.12" textLength="77.69" lengthAdjust="spacingAndGlyphs" transform="rotate(-90 368.00 438.16)" >Transfused VWF</text>
<text x="380.90" y="438.43" font-size="9.9" font-weight="normal" fill="#111" stroke="#111" stroke-width="0.12" textLength="77.51" lengthAdjust="spacingAndGlyphs" transform="rotate(-90 380.90 438.43)" >positive platelets</text>
<text x="393.30" y="447.84" font-size="9.9" font-weight="normal" fill="#111" stroke="#111" stroke-width="0.12" textLength="96.50" lengthAdjust="spacingAndGlyphs" transform="rotate(-90 393.30 447.84)" >(ratio relative to WT)</text>
</g></svg>
</body></html>
